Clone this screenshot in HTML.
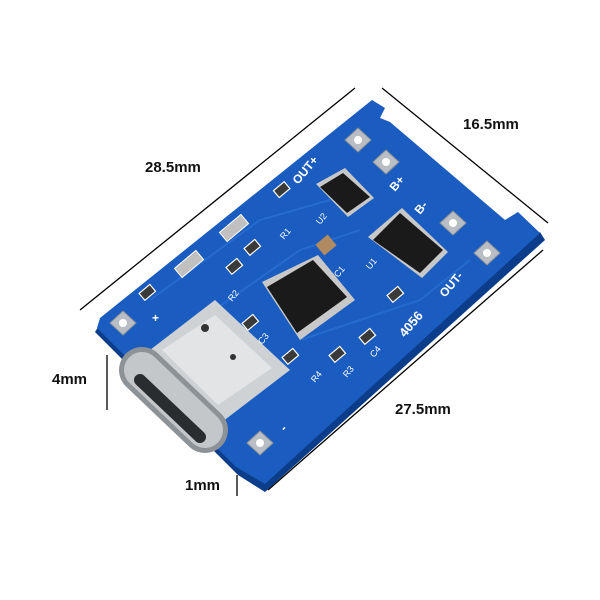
<!DOCTYPE html>
<html><head><style>
html,body{margin:0;padding:0;background:#fff;}
svg{display:block;}
</style></head><body>
<svg width="600" height="600" viewBox="0 0 600 600" xmlns="http://www.w3.org/2000/svg" font-family="Liberation Sans, sans-serif">
<rect width="600" height="600" fill="#fff"/>
<g stroke="#000" stroke-width="1.3">
<line x1="80" y1="310" x2="355" y2="88"/>
<line x1="382" y1="88" x2="548" y2="223"/>
<line x1="543" y1="250" x2="268" y2="490"/>
<line x1="107" y1="355" x2="107" y2="410"/>
<line x1="237" y1="475" x2="237" y2="496"/>
</g>
<g font-weight="bold" font-size="15" fill="#111">
<text x="145" y="172">28.5mm</text>
<text x="463" y="129">16.5mm</text>
<text x="52" y="384">4mm</text>
<text x="395" y="414">27.5mm</text>
<text x="185" y="490">1mm</text>
</g>
<polygon points="95,332 238,475 265,492 545,240 540,232 265,482 235,465 100,324" fill="#0b3d8a"/>
<polygon points="100,318 372,100 385,108 380,118 390,122 505,220 518,212 540,233 265,484 236,467 97,328" fill="#1a5cc0"/>
<g stroke="#2a72d8" stroke-width="2" fill="none" opacity="0.7">
<path d="M150,300 L260,220 L330,200"/><path d="M200,320 L300,250 L360,230"/><path d="M300,340 L420,300 L470,260"/>
</g>
<g fill="#b9bec4" stroke="#8a9096">
<polygon points="345,140 358,128 371,140 358,152"/>
<polygon points="373,162 386,150 399,162 386,174"/>
<polygon points="440,223 453,211 466,223 453,235"/>
<polygon points="474,253 487,241 500,253 487,265"/>
<polygon points="110,323 123,311 136,323 123,335"/>
<polygon points="247,443 260,431 273,443 260,455"/>
</g>
<g fill="#fff">
<circle cx="358" cy="140" r="4"/><circle cx="386" cy="162" r="4"/><circle cx="453" cy="223" r="4"/>
<circle cx="487" cy="253" r="4"/><circle cx="123" cy="323" r="4"/><circle cx="260" cy="443" r="4"/>
</g>
<g fill="#3a3a3a" stroke="#fff" stroke-width="1.2">
<rect x="140" y="288" width="14" height="9" transform="rotate(-40 147 292)"/>
<rect x="275" y="185" width="14" height="9" transform="rotate(-40 282 190)"/>
<rect x="245" y="243" width="14" height="9" transform="rotate(-40 252 247)"/>
<rect x="227" y="262" width="14" height="9" transform="rotate(-40 234 266)"/>
<rect x="243" y="318" width="14" height="9" transform="rotate(-40 250 322)"/>
<rect x="283" y="352" width="14" height="9" transform="rotate(-40 290 356)"/>
<rect x="330" y="350" width="14" height="9" transform="rotate(-40 337 354)"/>
<rect x="360" y="332" width="14" height="9" transform="rotate(-40 367 336)"/>
<rect x="388" y="290" width="14" height="9" transform="rotate(-40 395 294)"/>
</g>
<g fill="#c0c0c0" stroke="#fff">
<rect x="175" y="258" width="28" height="12" transform="rotate(-40 189 264)"/>
<rect x="220" y="222" width="28" height="12" transform="rotate(-40 234 228)"/>
</g>
<rect x="318" y="238" width="16" height="14" fill="#b08a60" transform="rotate(-40 326 245)"/>
<g fill="#c8c8c8">
<polygon points="262,282 318,255 355,300 300,340"/>
<polygon points="368,237 402,208 448,252 422,278"/>
<polygon points="316,184 345,168 374,198 348,217"/>
</g>
<polygon points="267,287 313,260 347,297 297,333" fill="#1a1a1a"/>
<polygon points="373,240 400,213 443,250 420,273" fill="#1a1a1a"/>
<polygon points="320,187 343,173 370,197 347,213" fill="#1a1a1a"/>
<polygon points="150,350 222,422 290,370 215,300" fill="#cfd2d5"/>
<polygon points="162,350 218,405 272,368 215,315" fill="#e2e4e6"/>
<line x1="142" y1="370" x2="205" y2="430" stroke="#8d9297" stroke-width="46" stroke-linecap="round"/>
<line x1="142" y1="370" x2="205" y2="430" stroke="#c4c7ca" stroke-width="36" stroke-linecap="round"/>
<line x1="140" y1="380" x2="200" y2="437" stroke="#2a2d30" stroke-width="12" stroke-linecap="round"/>
<circle cx="205" cy="328" r="4" fill="#333"/><circle cx="233" cy="357" r="3" fill="#333"/>
<g fill="#fff" font-weight="bold" font-size="12">
<text x="298" y="185" transform="rotate(-50 298 185)">OUT+</text>
<text x="395" y="192" transform="rotate(-50 395 192)">B+</text>
<text x="420" y="215" transform="rotate(-50 420 215)">B-</text>
<text x="445" y="298" transform="rotate(-50 445 298)">OUT-</text>
<text x="405" y="338" font-size="13" transform="rotate(-50 405 338)">4056</text>
<text x="152" y="322">+</text>
<text x="285" y="432" transform="rotate(-50 285 432)">-</text>
</g>
<g fill="#fff" font-size="9">
<text x="284" y="240" transform="rotate(-50 284 240)">R1</text>
<text x="232" y="302" transform="rotate(-50 232 302)">R2</text>
<text x="262" y="345" transform="rotate(-50 262 345)">C3</text>
<text x="315" y="383" transform="rotate(-50 315 383)">R4</text>
<text x="347" y="378" transform="rotate(-50 347 378)">R3</text>
<text x="374" y="358" transform="rotate(-50 374 358)">C4</text>
<text x="338" y="278" transform="rotate(-50 338 278)">C1</text>
<text x="370" y="270" transform="rotate(-50 370 270)">U1</text>
<text x="320" y="225" transform="rotate(-50 320 225)">U2</text>
</g>
</svg>
</body></html>
